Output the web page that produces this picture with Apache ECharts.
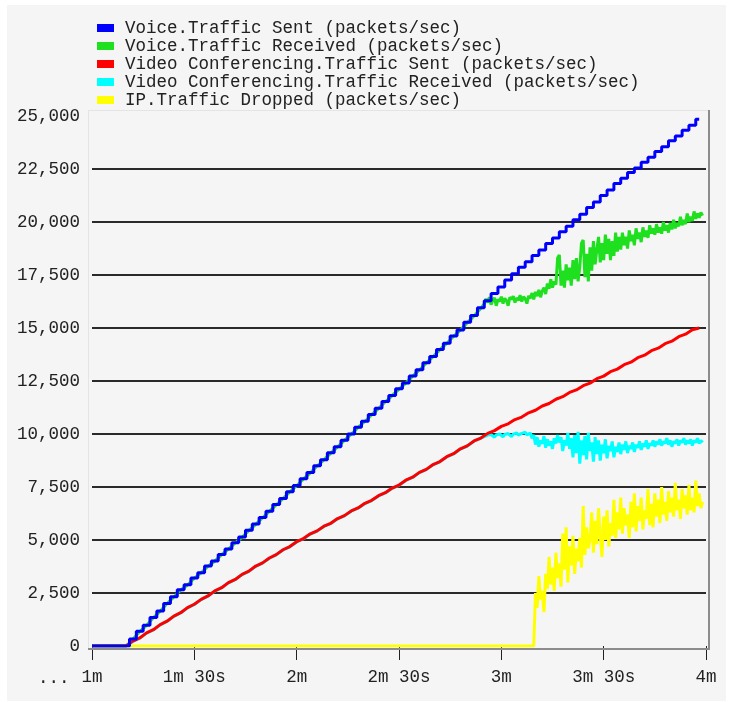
<!DOCTYPE html>
<html>
<head>
<meta charset="utf-8">
<title>Traffic (packets/sec)</title>
<script src="https://cdn.jsdelivr.net/npm/echarts@6/dist/echarts.min.js"></script>
<style>
  html, body { margin: 0; padding: 0; background: #ffffff; }
  #chart { width: 732px; height: 702px; }
</style>
</head>
<body>
<div id="chart"></div>
<script>
// Time in seconds of simulation, value in packets/sec.
const seriesNames = [
  'Voice.Traffic Sent (packets/sec)',
  'Voice.Traffic Received (packets/sec)',
  'Video Conferencing.Traffic Sent (packets/sec)',
  'Video Conferencing.Traffic Received (packets/sec)',
  'IP.Traffic Dropped (packets/sec)'
];
const seriesColors = ['#0000ff', '#1ee01e', '#ff0000', '#00ffff', '#ffff00'];

const xTickLabels = ['1m', '1m 30s', '2m', '2m 30s', '3m', '3m 30s', '4m'];

// Sent curves, sampled every 2 s.
const voiceSent = [
  [60,0],[70,0],[72,330],[74,690],[76,980],[78,1350],[80,1650],[82,2010],[84,2320],[86,2650],
  [88,2890],[90,3210],[92,3460],[94,3770],[96,4010],[98,4320],[100,4580],[102,4870],[104,5140],
  [106,5460],[108,5750],[110,6060],[112,6360],[114,6670],[116,6960],[118,7280],[120,7570],
  [122,7890],[124,8180],[126,8500],[128,8790],[130,9110],[132,9400],[134,9710],[136,10000],
  [138,10320],[140,10600],[142,10920],[144,11210],[146,11530],[148,11820],[150,12130],
  [152,12410],[154,12740],[156,13030],[158,13360],[160,13660],[162,13990],[164,14280],
  [166,14620],[168,14910],[170,15270],[172,15590],[174,15960],[176,16290],[178,16630],
  [180,16930],[182,17270],[184,17560],[186,17860],[188,18120],[190,18420],[192,18680],
  [194,18980],[196,19240],[198,19540],[200,19800],[202,20110],[204,20370],[206,20680],
  [208,20940],[210,21250],[212,21510],[214,21820],[216,22060],[218,22330],[220,22550],
  [222,22820],[224,23050],[226,23320],[228,23550],[230,23830],[232,24060],[234,24330],
  [236,24560],[238,24850]
];

const videoSent = [
  [60,0],[70,0],[72,230],[74,380],[76,620],[78,770],[80,1010],[82,1170],[84,1410],[86,1570],
  [88,1810],[90,1970],[92,2200],[94,2360],[96,2600],[98,2750],[100,2990],[102,3140],[104,3380],
  [106,3530],[108,3770],[110,3920],[112,4150],[114,4310],[116,4540],[118,4690],[120,4920],
  [122,5070],[124,5290],[126,5430],[128,5650],[130,5790],[132,6010],[134,6150],[136,6370],
  [138,6510],[140,6730],[142,6870],[144,7090],[146,7230],[148,7450],[150,7590],[152,7820],
  [154,7960],[156,8190],[158,8330],[160,8560],[162,8700],[164,8930],[166,9070],[168,9300],
  [170,9440],[172,9670],[174,9810],[176,10030],[178,10160],[180,10360],[182,10480],
  [184,10680],[186,10800],[188,11000],[190,11120],[192,11320],[194,11440],[196,11640],
  [198,11760],[200,11960],[202,12080],[204,12280],[206,12400],[208,12610],[210,12730],
  [212,12940],[214,13060],[216,13270],[218,13390],[220,13600],[222,13720],[224,13930],
  [226,14050],[228,14260],[230,14380],[232,14590],[234,14710],[236,14920],[238,15000]
];

// Received curves: identical to sent until the link saturates near 3m,
// then sampled every 0.5 s from the listed start time.
const voiceReceivedEarly = [
  [60,0],[70,0],[72,320],[74,680],[76,970],[78,1340],[80,1640],[82,2000],[84,2310],[86,2640],
  [88,2880],[90,3200],[92,3450],[94,3760],[96,4000],[98,4310],[100,4570],[102,4860],[104,5130],
  [106,5450],[108,5740],[110,6050],[112,6350],[114,6660],[116,6950],[118,7270],[120,7560],
  [122,7880],[124,8170],[126,8490],[128,8780],[130,9100],[132,9390],[134,9700],[136,9990],
  [138,10310],[140,10590],[142,10910],[144,11200],[146,11520],[148,11810],[150,12120],
  [152,12400],[154,12730],[156,13020],[158,13350],[160,13650],[162,13980],[164,14270],
  [166,14610],[168,14900],[170,15250],[172,15570],[174,15930]
];
const voiceReceivedStart = 175;
const voiceReceivedLate = [
  16150,16380,16200,16450,16100,16300,16420,16050,16350,16250,16480,16150,16400,16300,16050,
  16450,16350,16500,16200,16420,16300,16550,16250,16480,16380,16150,16520,16400,16650,16350,
  16700,16500,16800,16450,16750,16900,16600,17100,16850,17300,16900,17200,
  17050,18300,18450,17000,17700,16900,18000,17250,17850,17000,18200,17300,18300,17200,17900,
  19000,19150,17400,18500,17200,18800,17700,19100,18000,18700,19300,18100,19000,18200,19400,
  18500,19200,18200,19100,18400,19500,18600,19300,18700,
  19500,18900,19300,18750,19600,19100,19400,18900,19700,
  19200,19500,19050,19750,19300,19600,19250,19850,19450,19700,19400,19900,19500,19750,19450,
  20000,19600,19850,19500,19950,19650,20100,19700,19950,19800,20250,19850,20100,19900,20400,
  20000,20250,20050,20500,20150,20400,20200,20450,20300
];

const videoReceivedEarly = [
  [60,0],[70,0],[72,220],[74,370],[76,610],[78,760],[80,1000],[82,1160],[84,1400],[86,1560],
  [88,1800],[90,1960],[92,2190],[94,2350],[96,2590],[98,2740],[100,2980],[102,3130],[104,3370],
  [106,3520],[108,3760],[110,3910],[112,4140],[114,4300],[116,4530],[118,4680],[120,4910],
  [122,5060],[124,5280],[126,5420],[128,5640],[130,5780],[132,6000],[134,6140],[136,6360],
  [138,6500],[140,6720],[142,6860],[144,7080],[146,7220],[148,7440],[150,7580],[152,7810],
  [154,7950],[156,8180],[158,8320],[160,8550],[162,8690],[164,8920],[166,9060],[168,9290],
  [170,9430],[172,9660],[174,9800]
];
const videoReceivedStart = 176;
const videoReceivedLate = [
  9950,9880,9970,9900,9850,9960,9890,10000,9920,9870,9980,9900,10020,9930,9880,9990,9920,
  10050,9950,9890,10030,9940,10080,9960,9900,10050,9800,9950,9500,9850,9400,9700,9550,9900,
  9350,9750,9450,9650,9300,9800,9550,9950,9600,9850,9200,9700,9450,10050,9300,9800,8900,9950,
  9100,10100,8600,9700,9000,9900,8800,10050,9200,9600,8700,9850,9050,9700,8750,9500,9100,
  9750,8850,9450,9200,9650,8900,9400,9150,9600,9050,9500,9250,9650,9100,9450,9300,9600,9150,
  9500,9350,9650,9250,9550,9400,9700,9300,9550,9450,9700,9400,9650,9500,9750,9450,9650,9550,
  9800,9500,9700,9400,9650,9550,9750,9450,9700,9600,9800,9500,9700,9550,9750,9450,9700,9600,
  9800,9550,9700,9600
];

// Dropped traffic: zero until the queue overflows, then sampled every 0.5 s.
const ipDroppedEarly = [[60,0],[189.5,0]];
const ipDroppedStart = 190;
const ipDroppedLate = [
  2500,1800,3300,2200,2600,1600,3400,2700,4200,2900,3700,2600,4400,3200,3900,2800,5300,3600,
  5600,3000,4700,3800,5200,3400,4600,4000,5100,3700,6600,4300,5600,4600,5000,6300,4400,5900,
  4800,6500,5200,4200,6100,5000,6400,4700,5800,5200,6900,5100,6300,5500,7000,5300,6500,5700,
  6200,5100,6800,5600,7200,5400,6600,5900,7000,5500,6400,6000,7400,5700,6700,5600,7200,6100,
  6900,5800,7500,6200,6800,5900,7300,6300,7000,6100,7700,6400,6900,6000,7400,6500,7100,6200,
  7600,6400,7000,6300,7800,6600,7200,6500,6800
];

const HALF_SECOND = 0.5;
function joinSamples(early, start, late) {
  return early.concat(late.map(function (v, i) { return [start + i * HALF_SECOND, v]; }));
}

const seriesData = [
  voiceSent,
  joinSamples(voiceReceivedEarly, voiceReceivedStart, voiceReceivedLate),
  videoSent,
  joinSamples(videoReceivedEarly, videoReceivedStart, videoReceivedLate),
  joinSamples(ipDroppedEarly, ipDroppedStart, ipDroppedLate)
];
// Drawing order: sent curves sit on top of their received counterparts.
const seriesZ = [6, 4, 5, 3, 2];
const seriesStep = ['middle', false, false, false, false];

const FONT = 'Liberation Mono';
const FONT_SIZE = 17.5;
const TEXT_COLOR = '#222222';

const chart = echarts.init(document.getElementById('chart'), null, { renderer: 'canvas' });

chart.setOption({
  animation: false,
  backgroundColor: '#ffffff',
  graphic: [
    { type: 'rect', z: -20, silent: true,
      shape: { x: 7, y: 5, width: 719, height: 696 },
      style: { fill: '#f5f5f5' } },
    { type: 'line', z: -10, silent: true,
      shape: { x1: 88, y1: 110.5, x2: 709, y2: 110.5 },
      style: { stroke: '#e4e4e4', lineWidth: 1 } },
    { type: 'line', z: -10, silent: true,
      shape: { x1: 88.5, y1: 110, x2: 88.5, y2: 649 },
      style: { stroke: '#e4e4e4', lineWidth: 1 } },
    { type: 'line', z: 10, silent: true,
      shape: { x1: 709, y1: 110, x2: 709, y2: 650 },
      style: { stroke: '#8c8c8c', lineWidth: 2 } },
    { type: 'line', z: 10, silent: true,
      shape: { x1: 88, y1: 649, x2: 710, y2: 649 },
      style: { stroke: '#8c8c8c', lineWidth: 2 } },
    { type: 'text', z: 10, silent: true,
      style: { x: 38, y: 678, text: '...', font: FONT_SIZE + 'px "' + FONT + '"',
               fill: TEXT_COLOR, verticalAlign: 'middle' } }
  ],
  legend: {
    orient: 'vertical',
    left: 97,
    top: 19,
    padding: 0,
    itemGap: 0,
    itemWidth: 17,
    itemHeight: 8,
    icon: 'rect',
    selectedMode: false,
    data: seriesNames,
    textStyle: {
      fontFamily: FONT, fontSize: FONT_SIZE, color: TEXT_COLOR,
      lineHeight: 18, padding: [0, 0, 0, 6]
    }
  },
  grid: { left: 92, right: 26, top: 116, bottom: 56, containLabel: false },
  xAxis: {
    type: 'value',
    min: 60,
    max: 240,
    interval: 30,
    axisLine: { show: false },
    axisTick: { show: true, length: 14, lineStyle: { color: '#222222', width: 1 } },
    splitLine: { show: false },
    axisLabel: {
      margin: 22,
      fontFamily: FONT, fontSize: FONT_SIZE, color: TEXT_COLOR,
      formatter: function (v) { return xTickLabels[Math.round((v - 60) / 30)] || ''; }
    }
  },
  yAxis: {
    type: 'value',
    min: 0,
    max: 25000,
    interval: 2500,
    axisLine: { show: false },
    axisTick: { show: false },
    splitLine: {
      show: true, showMinLine: false, showMaxLine: false,
      lineStyle: { color: '#2a2a2a', width: 2 }
    },
    axisLabel: {
      margin: 12,
      padding: [0, 0, 10, 0],
      fontFamily: FONT, fontSize: FONT_SIZE, color: TEXT_COLOR,
      formatter: function (v) { return v.toLocaleString('en-US'); }
    }
  },
  series: seriesNames.map(function (name, i) {
    return {
      name: name,
      type: 'line',
      data: seriesData[i],
      z: seriesZ[i],
      step: seriesStep[i],
      symbol: 'none',
      showSymbol: false,
      itemStyle: { color: seriesColors[i] },
      lineStyle: { color: seriesColors[i], width: 3 },
      emphasis: { disabled: true }
    };
  })
});
</script>
</body>
</html>
